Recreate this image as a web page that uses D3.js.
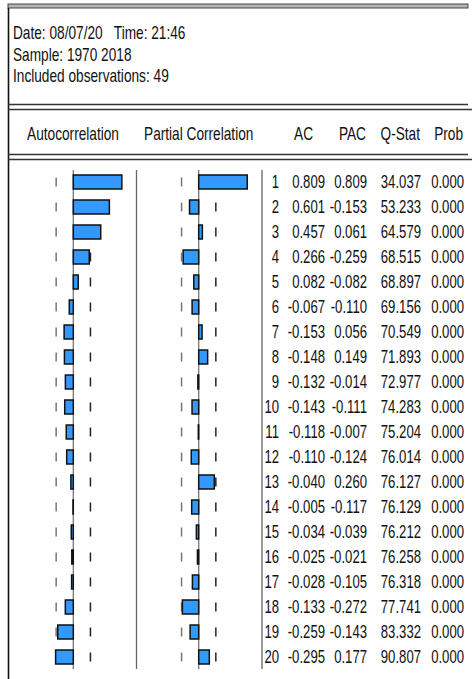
<!DOCTYPE html>
<html>
<head>
<meta charset="utf-8">
<script src="https://cdn.jsdelivr.net/npm/d3@7/dist/d3.min.js"></script>
<style>
html,body{margin:0;padding:0;background:#fff;}
svg{display:block;}
text{font-family:"Liberation Sans",Arial,sans-serif;fill:#111;white-space:pre;}
</style>
</head>
<body>
<div id="chart"></div>
<script>
// ---- data ----
const infoLines = ["Date: 08/07/20   Time: 21:46", "Sample: 1970 2018", "Included observations: 49"];
const columnTitles = ["Autocorrelation", "Partial Correlation", "AC", "PAC", "Q-Stat", "Prob"];
const lags = [1,2,3,4,5,6,7,8,9,10,11,12,13,14,15,16,17,18,19,20];
const acValues = [0.809,0.601,0.457,0.266,0.082,-0.067,-0.153,-0.148,-0.132,-0.143,-0.118,-0.110,-0.040,-0.005,-0.034,-0.025,-0.028,-0.133,-0.259,-0.295];
const pacValues = [0.809,-0.153,0.061,-0.259,-0.082,-0.110,0.056,0.149,-0.014,-0.111,-0.007,-0.124,0.260,-0.117,-0.039,-0.021,-0.105,-0.272,-0.143,0.177];
const qStat = [34.037,53.233,64.579,68.515,68.897,69.156,70.549,71.893,72.977,74.283,75.204,76.014,76.127,76.129,76.212,76.258,76.318,77.741,83.332,90.807];
const probValues = [0,0,0,0,0,0,0,0,0,0,0,0,0,0,0,0,0,0,0,0];
const nObs = 49;

// ---- setup ----
const W = 472, H = 679;
const SX = 0.76, SXT = 0.73, FS = 18;
const svg = d3.select("#chart").append("svg").attr("width", W).attr("height", H);
const loc = d3.formatLocale({decimal:".", thousands:",", grouping:[3], currency:["",""], minus:"-"});
const f3 = loc.format(".3f");

function txt(g, x, y, s, anchor, sx) {
  return g.append("text")
    .attr("xml:space", "preserve")
    .attr("transform", `translate(${x},${y}) scale(${sx || SX},1)`)
    .attr("text-anchor", anchor || "start")
    .attr("font-size", FS)
    .text(s);
}
function hline(y, x1, x2, color, w) {
  svg.append("line").attr("x1", x1).attr("x2", x2).attr("y1", y).attr("y2", y)
    .attr("stroke", color).attr("stroke-width", w);
}

// frame lines
svg.append("rect").attr("x", 8).attr("y", 4).attr("width", 460).attr("height", 4)
  .attr("fill", "#b5b5b5").attr("stroke", "#444").attr("stroke-width", 1);
svg.append("line").attr("x1", 8.5).attr("x2", 8.5).attr("y1", 8).attr("y2", H)
  .attr("stroke", "#111").attr("stroke-width", 1.6);
hline(104.5, 8, 468, "#333", 1.6);
hline(109.5, 8, 472, "#333", 1.6);
hline(154.5, 8, 468, "#333", 1.6);
hline(159.5, 8, 472, "#333", 1.6);

// info lines
const gInfo = svg.append("g");
infoLines.forEach((s, i) => txt(gInfo, 13, 39 + i * 21.5, s));

// column titles
const gT = svg.append("g");
const titlePos = [[73, "middle"], [198.7, "middle"], [313, "end"], [366, "end"], [420, "end"], [463, "end"]];
columnTitles.forEach((s, i) => txt(gT, titlePos[i][0], 139.5, s, titlePos[i][1]));

// scales
const y = d3.scaleBand().domain(lags).range([169.5, 669.5]).paddingInner(0.44).paddingOuter(0.22);
const xAC = d3.scaleLinear().domain([-1, 1]).range([73.3 - 60, 73.3 + 60]);
const xPAC = d3.scaleLinear().domain([-1, 1]).range([198.7 - 60, 198.7 + 60]);
const bound = 2 / Math.sqrt(nObs);
const rowC = d => y(d) + y.bandwidth() / 2;

// separators
svg.append("line").attr("x1", 136.5).attr("x2", 136.5).attr("y1", 170).attr("y2", 669)
  .attr("stroke", "#666").attr("stroke-width", 1.3);
svg.append("line").attr("x1", 262).attr("x2", 262).attr("y1", 170).attr("y2", 669)
  .attr("stroke", "#777").attr("stroke-width", 1.5);

function panel(xs, vals) {
  const g = svg.append("g");
  g.append("line").attr("x1", xs(0)).attr("x2", xs(0)).attr("y1", 170).attr("y2", 669)
    .attr("stroke", "#777").attr("stroke-width", 1.3);
  // confidence dashes
  g.selectAll(".lo").data(lags).join("line")
    .attr("x1", xs(-bound)).attr("x2", xs(-bound))
    .attr("y1", d => rowC(d) - 4.5).attr("y2", d => rowC(d) + 4.5)
    .attr("stroke", "#777").attr("stroke-width", 1.5);
  g.selectAll(".hi").data(lags).join("line")
    .attr("x1", xs(bound)).attr("x2", xs(bound))
    .attr("y1", d => rowC(d) - 4.5).attr("y2", d => rowC(d) + 4.5)
    .attr("stroke", "#222").attr("stroke-width", 1.5);
  g.selectAll("rect").data(lags).join("rect")
    .attr("x", (d, i) => Math.min(xs(0), xs(vals[i])))
    .attr("width", (d, i) => Math.abs(xs(vals[i]) - xs(0)))
    .attr("y", d => y(d))
    .attr("height", y.bandwidth())
    .attr("fill", "#3399ff")
    .attr("stroke", "#111").attr("stroke-width", 1.5);
}
panel(xAC, acValues);
panel(xPAC, pacValues);

// table
const gTab = svg.append("g");
lags.forEach((d, i) => {
  const by = rowC(d) + 6.3;
  txt(gTab, 279, by, String(d), "end", SXT);
  txt(gTab, 325, by, f3(acValues[i]), "end", SXT);
  txt(gTab, 367, by, f3(pacValues[i]), "end", SXT);
  txt(gTab, 421, by, f3(qStat[i]), "end", SXT);
  txt(gTab, 464, by, f3(probValues[i]), "end", SXT);
});
</script>
</body>
</html>
